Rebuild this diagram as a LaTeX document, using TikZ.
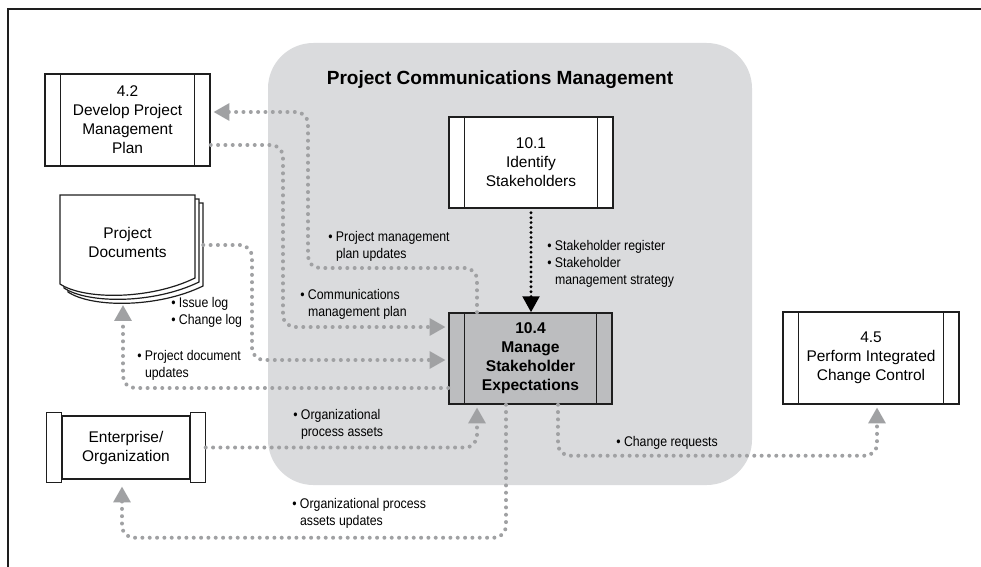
\documentclass[tikz,border=0pt]{standalone}
\usepackage{fontspec}
\setmainfont{Liberation Sans}
\newfontfamily\condfont[FakeStretch=0.88]{Liberation Sans}
\usetikzlibrary{arrows.meta}

\definecolor{regiongray}{RGB}{218,219,221}
\definecolor{activegray}{RGB}{188,189,191}
\definecolor{flowgray}{RGB}{160,161,163}
\definecolor{inkblack}{RGB}{30,30,30}

\begin{document}
\begin{tikzpicture}[
    x=0.75pt, y=-0.75pt,
    font=\fontsize{11.6}{14.25}\selectfont,
    % Process boxes with side bars
    process/.style={rectangle, draw=inkblack, line width=1.1pt, fill=white, align=center, inner sep=0pt,
        path picture={
            \draw[inkblack, line width=1.1pt]
                ([xshift=11.5pt]path picture bounding box.north west) -- ([xshift=11.5pt]path picture bounding box.south west)
                ([xshift=-11.5pt]path picture bounding box.north east) -- ([xshift=-11.5pt]path picture bounding box.south east);
        }},
    entity/.style={rectangle, draw=inkblack, line width=1.1pt, fill=white, align=center, inner sep=0pt, minimum width=96pt, minimum height=47.25pt},
    region/.style={rectangle, fill=regiongray, rounded corners=34pt, minimum width=363pt, minimum height=331.5pt},
    % labels are placed by the baseline of their last line
    note/.style={font=\condfont\fontsize{10.5}{12.75}\selectfont, align=left, inner sep=0pt, anchor=base west},
    % Connector styles
    flow/.style={draw=flowgray, line width=3pt, line cap=round, dash pattern=on 0pt off 5.5pt, rounded corners=9pt, shorten >=2pt, -{Triangle[length=12pt, width=12.5pt, fill=flowgray]}},
    flowdark/.style={draw=black, line width=2.4pt, line cap=round, dash pattern=on 0pt off 3.7pt, shorten <=3pt, -{Triangle[length=12pt, width=12.5pt]}}
]
\useasboundingbox (0,0) rectangle (981,567);

% -----------------------------------------------------------
% Frame and knowledge area
% -----------------------------------------------------------
\draw[inkblack, line width=1.5pt] (8,567) -- (8,9) -- (981,9);
\node[region] (pcm) at (510,264) {};
\node[font=\bfseries\fontsize{14.3}{17}\selectfont] (pcmtitle) at (500,80) {Project Communications Management};

% -----------------------------------------------------------
% Processes
% -----------------------------------------------------------
\node[process, minimum width=123.75pt, minimum height=69pt] (dpm) at (127.5,120) {4.2\\Develop Project\\Management\\Plan};
\node[process, minimum width=123pt, minimum height=68.25pt] (isk) at (531,162.5) {10.1\\Identify\\Stakeholders};
\node[process, fill=activegray, font=\bfseries\fontsize{11.7}{14.25}\selectfont, minimum width=122.25pt, minimum height=68.25pt] (mse) at (530.5,358.5) {10.4\\Manage\\Stakeholder\\Expectations};
\node[process, minimum width=132pt, minimum height=69pt] (picc) at (871,358) {4.5\\Perform Integrated\\Change Control};

% Enterprise with side tabs
\node[entity] (ent) at (126,447.5) {Enterprise/\\Organization};
\draw[inkblack, line width=1.1pt, fill=white] ([shift={(-15,-3)}]ent.north west) rectangle ([shift={(0,3)}]ent.south west);
\draw[inkblack, line width=1.1pt, fill=white] ([shift={(0,-3)}]ent.north east) rectangle ([shift={(15,3)}]ent.south east);

% Project documents: stack of three pages
\begin{scope}[shift={(60,195)}]
  \foreach \d in {8,4,0}
    \draw[inkblack, line width=0.9pt, fill=white] (\d,\d) -- (135+\d,\d) -- (135+\d,83+\d)
      .. controls (90+\d,105+\d) and (24+\d,105+\d) .. (\d,89+\d) -- cycle;
\end{scope}
\node[minimum width=101.25pt, minimum height=70.5pt, inner sep=0pt, align=center] (docs) at (127.5,242) {Project\\Documents};

% -----------------------------------------------------------
% Connectors
% -----------------------------------------------------------
\draw[flowdark] (isk.south) -- (isk.south |- mse.north);
\draw[flow] ([shift={(-53.5,0)}]mse.north) |- (308,268) |- ([shift={(0,-8)}]dpm.east);
\draw[flow] ([shift={(0,25)}]dpm.east) -| (283,300) |- ([shift={(0,-31.5)}]mse.west);
\draw[flow] ([shift={(8,3)}]docs.east) -| (252,300) |- ([shift={(0,1.5)}]mse.west);
\draw[flow] ([shift={(0,29.5)}]mse.west) -| ([shift={(-4.5,13)}]docs.south);
\draw[flow] ([shift={(15,0)}]ent.east) -| ([shift={(-53.5,0)}]mse.south);
\draw[flow] ([shift={(-24.5,0)}]mse.south) -- ++(0,133) -| ([shift={(-4,4)}]ent.south);
\draw[flow] ([shift={(27.5,0)}]mse.south) -- ++(0,51) -| ([shift={(6,0)}]picc.south);

% -----------------------------------------------------------
% Connector labels
% -----------------------------------------------------------
\node[note] (n1) at (328,258) {\textbullet\ Project management\\\phantom{\textbullet\ }plan updates};
\node[note] (n2) at (300,316) {\textbullet\ Communications\\\phantom{\textbullet\ }management plan};
\node[note] (n3) at (547,284) {\textbullet\ Stakeholder register\\\textbullet\ Stakeholder\\\phantom{\textbullet\ }management strategy};
\node[note] (n4) at (171,324) {\textbullet\ Issue log\\\textbullet\ Change log};
\node[note] (n5) at (137,377) {\textbullet\ Project document\\\phantom{\textbullet\ }updates};
\node[note] (n6) at (293,436) {\textbullet\ Organizational\\\phantom{\textbullet\ }process assets};
\node[note] (n7) at (292,525) {\textbullet\ Organizational process\\\phantom{\textbullet\ }assets updates};
\node[note] (n8) at (616,446) {\textbullet\ Change requests};

\end{tikzpicture}
\end{document}
